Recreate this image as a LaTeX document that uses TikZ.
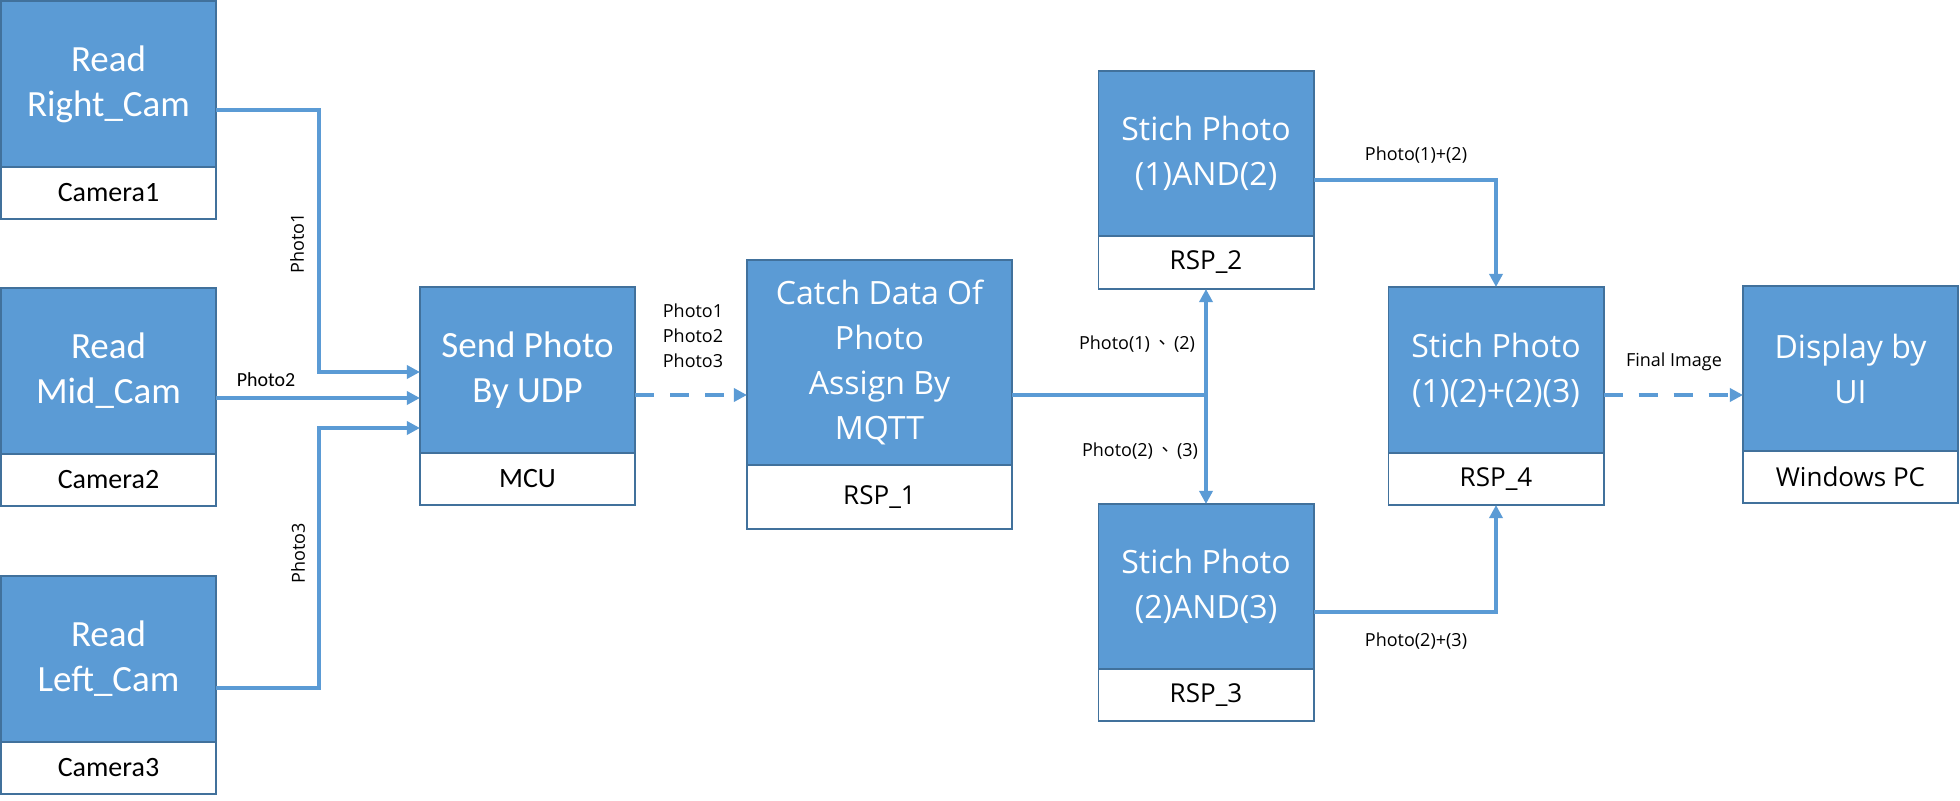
\documentclass[tikz,border=0pt]{standalone}
\usepackage{fontspec}
\setmainfont{Carlito}
\newfontfamily\osans{Open Sans}
\newfontfamily\cjk{Noto Sans CJK TC}
\usetikzlibrary{arrows.meta,positioning}
\definecolor{boxblue}{HTML}{5B9BD5}
\definecolor{edgeblue}{HTML}{41719C}
\tikzset{
  blk/.style={draw=edgeblue, fill=boxblue, text=white, line width=1.4pt,
    minimum width=5.375cm, minimum height=4.125cm, inner sep=0pt,
    outer sep=0pt, align=center},
  sub/.style={draw=edgeblue, fill=white, line width=1.4pt,
    minimum width=5.375cm, minimum height=1.3cm, inner sep=0pt, outer sep=0pt},
  calfont/.style={font=\fontsize{26.3}{32}\selectfont},
  osfont/.style={font=\osans\fontsize{22.8}{32}\selectfont},
  calsub/.style={font=\fontsize{19.9}{24}\selectfont},
  ossub/.style={font=\osans\fontsize{18.5}{22}\selectfont},
  lbl/.style={font=\osans\fontsize{12.8}{17.8}\selectfont, align=center},
  conn/.style={draw=boxblue, line width=2.85pt},
  dashconn/.style={conn, dash pattern=on 0.475cm off 0.4cm}
}

\begin{document}
\begin{tikzpicture}[x=0.025cm, y=-0.025cm,
  >={Triangle[length=0.33cm, width=0.33cm]}]
\path[use as bounding box, fill=white] (0,0) rectangle (1960,801);
% cameras
\node[blk, calfont] at (108.5,84) (cam1) {Read\\Right\_Cam};
\node[sub, calsub, below=0pt of cam1] (cam1sub) {Camera1};
\node[blk, calfont] at (108.5,371) (cam2) {Read\\Mid\_Cam};
\node[sub, calsub, below=0pt of cam2] (cam2sub) {Camera2};
\node[blk, calfont] at (108.5,659) (cam3) {Read\\Left\_Cam};
\node[sub, calsub, below=0pt of cam3] (cam3sub) {Camera3};
% mcu and rsp_1
\node[blk, calfont] at (527.5,370) (send) {Send Photo\\By UDP};
\node[sub, calsub, below=0pt of send] (sendsub) {MCU};
\node[blk, osfont, minimum width=6.625cm, minimum height=5.125cm]
  at (879.5,362.5) (catch) {Catch Data Of\\Photo\\Assign By\\MQTT};
\node[sub, ossub, minimum width=6.625cm, minimum height=1.6cm,
  below=0pt of catch] (catchsub) {RSP\_1};
% stitching
\node[blk, osfont] at (1206,153.5) (s12) {Stich Photo\\(1)AND(2)};
\node[sub, ossub, minimum height=1.325cm, below=0pt of s12] (s12sub) {RSP\_2};
\node[blk, osfont] at (1206,586.5) (s23) {Stich Photo\\(2)AND(3)};
\node[sub, ossub, below=0pt of s23] (s23sub) {RSP\_3};
\node[blk, osfont, minimum height=4.15cm] at (1496,370) (s4)
  {Stich Photo\\(1)(2)+(2)(3)};
\node[sub, ossub, below=0pt of s4] (s4sub) {RSP\_4};
\node[blk, osfont] at (1850.5,368.5) (disp) {Display by\\UI};
\node[sub, ossub, below=0pt of disp] (dispsub) {Windows PC};
% labels
\node[lbl, rotate=90] at (297,243) (p1) {Photo1};
\node[font=\fontsize{14.2}{17}\selectfont] at (266,380) (p2) {Photo2};
\node[lbl, rotate=90] at (298,553) (p3) {Photo3};
\node[lbl] at (693,336) (p123) {Photo1\\Photo2\\Photo3};
\node[lbl] at (1137,344) (p12) {Photo(1)\,{\cjk 、}\,(2)};
\node[lbl] at (1140,451) (p23) {Photo(2)\,{\cjk 、}\,(3)};
\node[lbl] at (1416,155) (sum12) {Photo(1)+(2)};
\node[lbl] at (1416,641) (sum23) {Photo(2)+(3)};
\node[lbl] at (1674,362) (fin) {Final Image};
% connectors
\coordinate (bendtop) at (319,372);
\coordinate (bendbot) at (319,428);
\draw[conn,->] (cam1.east |- 0,110) -| (bendtop) -- (send.west |- bendtop);
\draw[conn,->] (cam2.east |- 0,398) -- (send.west |- 0,398);
\draw[conn,->] (cam3.east |- 0,688) -| (bendbot) -- (send.west |- bendbot);
\draw[dashconn,->] (send.east |- 0,395) -- (catch.west |- 0,395);
\draw[conn] (catch.east |- 0,395) -- (s12sub.south |- 0,395);
\draw[conn,<->] (s12sub.south) -- (s23.north);
\draw[conn,->] (s12.east |- 0,180) -| (s4.north);
\draw[conn,->] (s23.east |- 0,612) -| (s4sub.south);
\draw[dashconn,->] (s4.east |- 0,395) -- (disp.west |- 0,395);
\end{tikzpicture}
\end{document}
